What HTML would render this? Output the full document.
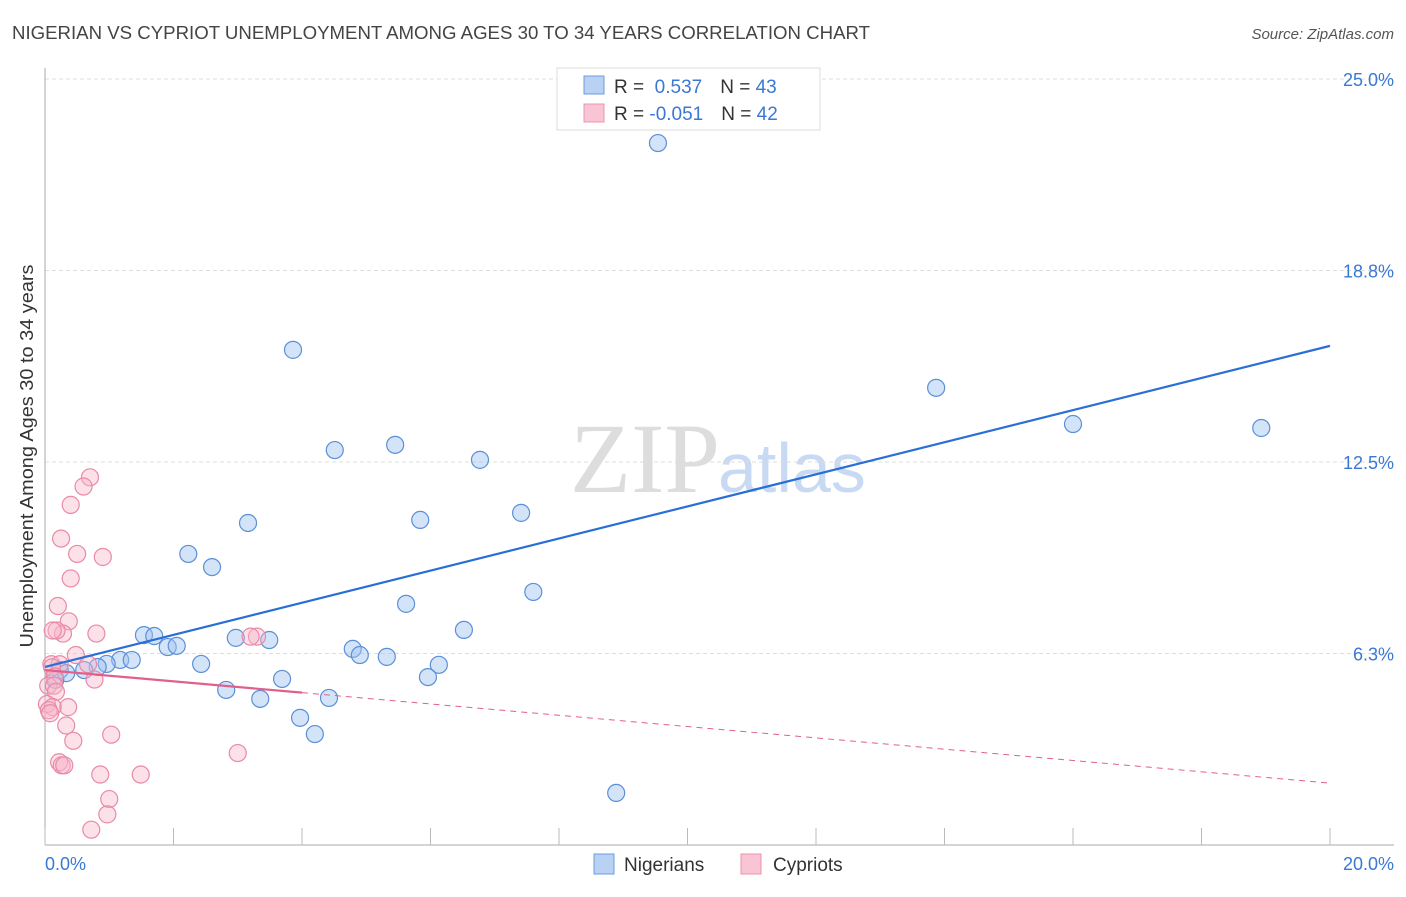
<!DOCTYPE html>
<html><head><meta charset="utf-8"><style>
body{margin:0;background:#fff;font-family:"Liberation Sans",sans-serif}
</style></head><body>
<svg id="c" width="1406" height="892" xmlns="http://www.w3.org/2000/svg">
<text x="12" y="39" font-size="18.5" fill="#444" textLength="858" lengthAdjust="spacingAndGlyphs">NIGERIAN VS CYPRIOT UNEMPLOYMENT AMONG AGES 30 TO 34 YEARS CORRELATION CHART</text>
<text x="1394" y="39" font-size="15" fill="#555" font-style="italic" text-anchor="end">Source: ZipAtlas.com</text>
<text x="720" y="492" font-size="100" fill="#ddd" text-anchor="end" font-family="Liberation Serif">ZIP</text>
<text x="718" y="492" font-size="70" fill="#c8daf3">atlas</text>
<g id="grid"></g><g id="pts"></g><g id="trend"></g>
<text x="33" y="456" font-size="18" fill="#333" text-anchor="middle" textLength="383" lengthAdjust="spacingAndGlyphs" transform="rotate(-90 33 456)">Unemployment Among Ages 30 to 34 years</text>
<text x="45" y="870" font-size="18" fill="#3a78d4">0.0%</text>
<text x="1394" y="870" font-size="18" fill="#3a78d4" text-anchor="end">20.0%</text>
<g>
<rect x="557" y="68" width="263" height="62" fill="#fff" stroke="#ddd"/>
<rect x="584" y="76" width="20" height="18" fill="#b9d1f3" stroke="#6d9be0"/>
<rect x="584" y="104" width="20" height="18" fill="#f9c5d4" stroke="#ec94ae"/>
<text x="614" y="93" font-size="19" fill="#333">R = <tspan fill="#3a78d4">&#160;0.537</tspan><tspan dx="18">N = </tspan><tspan fill="#3a78d4">43</tspan></text>
<text x="614" y="120" font-size="19" fill="#333">R = <tspan fill="#3a78d4">-0.051</tspan><tspan dx="18">N = </tspan><tspan fill="#3a78d4">42</tspan></text>
</g>
<g>
<rect x="594" y="854" width="20" height="20" fill="#b9d1f3" stroke="#6d9be0"/>
<text x="624" y="871" font-size="19" fill="#333">Nigerians</text>
<rect x="741" y="854" width="20" height="20" fill="#f9c5d4" stroke="#ec94ae"/>
<text x="773" y="871" font-size="19" fill="#333">Cypriots</text>
</g>
</svg>
<script>
const yTicks=[25,18.75,12.5,6.25];
const yTickLabels=["25.0%","18.8%","12.5%","6.3%"];
const xTicks=[0,2,4,6,8,10,12,14,16,18,20];
const nigX=[9.54,3.86,13.87,16.0,18.93,4.51,5.45,6.77,3.16,5.84,7.41,2.23,2.60,7.60,5.62,6.52,1.54,1.70,2.97,3.49,1.91,2.05,4.79,4.90,5.32,1.17,1.35,0.96,2.43,6.13,0.82,0.61,0.23,0.33,3.69,5.96,0.16,2.82,3.35,4.42,3.97,4.20,8.89];
const nigY=[22.91,16.16,14.92,13.74,13.61,12.89,13.06,12.57,10.51,10.61,10.84,9.50,9.07,8.26,7.87,7.02,6.85,6.82,6.76,6.69,6.46,6.50,6.40,6.20,6.14,6.04,6.04,5.91,5.91,5.88,5.81,5.71,5.71,5.61,5.42,5.48,5.39,5.06,4.77,4.80,4.15,3.62,1.70];
const cypX=[0.7,0.6,0.4,0.25,0.5,0.9,0.4,0.2,0.37,0.8,0.28,0.18,0.12,0.1,0.23,0.48,0.67,3.3,3.2,0.77,0.11,0.15,0.05,0.14,0.17,0.03,0.36,0.12,0.06,0.08,0.33,1.03,0.44,0.22,0.26,0.3,0.86,1.49,3.0,1.0,0.97,0.72];
const cypY=[12.0,11.7,11.1,10.0,9.5,9.4,8.7,7.8,7.3,6.9,6.9,7.0,7.0,5.9,5.9,6.2,5.9,6.8,6.8,5.4,5.8,5.5,5.2,5.2,5.0,4.6,4.5,4.5,4.4,4.3,3.9,3.6,3.4,2.7,2.6,2.6,2.3,2.3,3.0,1.5,1.0,0.5];
const X0=45,X1=1330,Y0=845,PPY=191.5/6.25;
const sx=v=>X0+(X1-X0)*v/20, sy=v=>Y0-v*PPY;
const NS="http://www.w3.org/2000/svg";
function mk(tag,attrs,parent){const e=document.createElementNS(NS,tag);for(const k in attrs)e.setAttribute(k,attrs[k]);parent.appendChild(e);return e;}
const grid=document.getElementById('grid');
yTicks.forEach((t,i)=>{
 const l=mk('line',{x1:X0,x2:1394,y1:sy(t),y2:sy(t),stroke:'#ddd','stroke-dasharray':'4,3'},grid);
 
 
 const tx=mk('text',{x:1394,y:sy(t)+7,'font-size':18,fill:'#3a78d4','text-anchor':'end'},grid);
 tx.textContent=yTickLabels[i];
 
 
});
const ax=mk('line',{x1:X0,x2:X0,y1:68,y2:Y0,stroke:'#aaa'},grid);


const bx=mk('line',{x1:X0,x2:1394,y1:Y0,y2:Y0,stroke:'#aaa'},grid);


xTicks.forEach(t=>{
 const l=mk('line',{x1:sx(t),x2:sx(t),y1:828,y2:Y0,stroke:'#bbb'},grid);
 
 
});
const pts=document.getElementById('pts');
nigX.forEach((v,i)=>{
 const c=mk('circle',{cx:sx(v),cy:sy(nigY[i]),r:8.5,fill:'rgba(160,195,240,0.45)',stroke:'#5b8fd8','stroke-width':1.2},pts);
 
 
});
cypX.forEach((v,i)=>{
 const c=mk('circle',{cx:sx(v),cy:sy(cypY[i]),r:8.5,fill:'rgba(248,180,200,0.4)',stroke:'#e98aa8','stroke-width':1.2},pts);
 
 
});
const tr=document.getElementById('trend');
const nigFit=[5.81,16.29], cypFit=[5.71,2.02];
const cy=x=>cypFit[0]+(cypFit[1]-cypFit[0])*x/20;
let l1=mk('line',{x1:sx(0),y1:sy(nigFit[0]),x2:sx(20),y2:sy(nigFit[1]),stroke:'#2a6fd6','stroke-width':2.2},tr);


let l2=mk('line',{x1:sx(0),y1:sy(cy(0)),x2:sx(4),y2:sy(cy(4)),stroke:'#e0608a','stroke-width':2.2},tr);


let l3=mk('line',{x1:sx(4),y1:sy(cy(4)),x2:sx(20),y2:sy(cy(20)),stroke:'#e0608a','stroke-width':1,'stroke-dasharray':'6,5'},tr);


</script>
</body></html>
